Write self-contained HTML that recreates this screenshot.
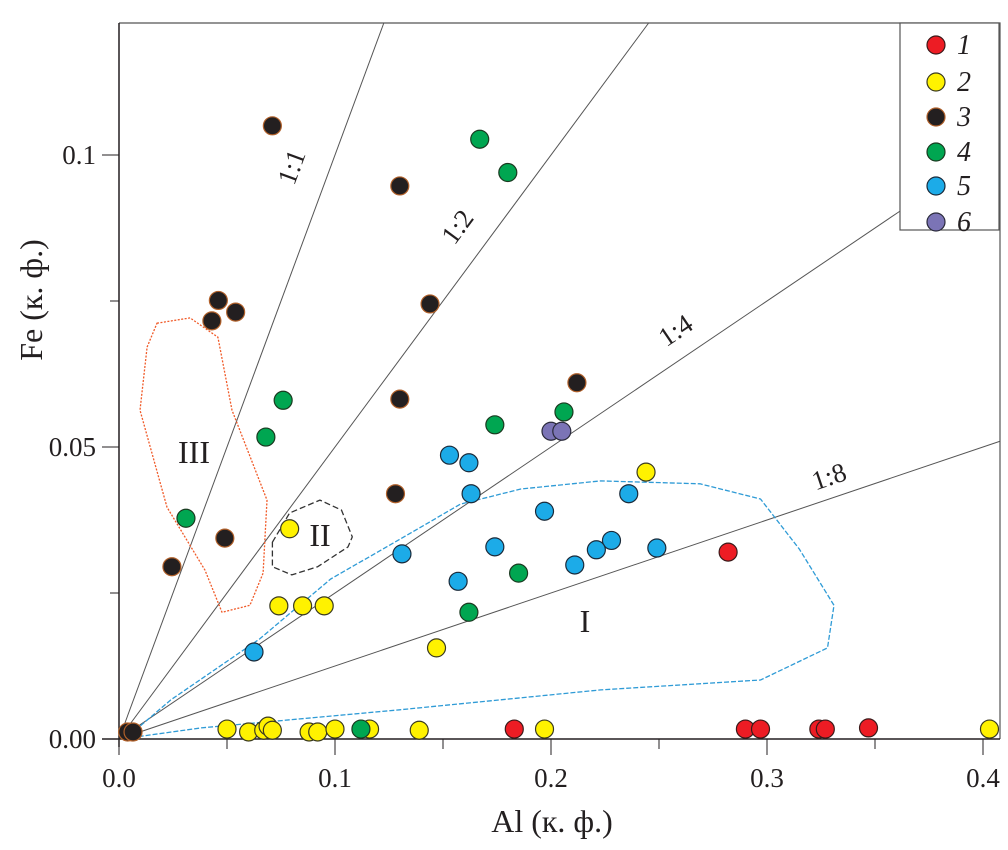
<!DOCTYPE html>
<html><head><meta charset="utf-8"><style>
body{margin:0;background:#fff}
svg{display:block}
text{font-family:"Liberation Serif",serif;fill:#231f20}
</style></head><body>
<svg id="chart" width="1008" height="850">
<g id="lines"></g>
<g id="regions"></g>
<g id="axes"></g>
<g id="points"></g>
<g id="legend"></g>
</svg>
<script>
const xTicks=[0,0.1,0.2,0.3,0.4];
const xTickLabels=["0.0","0.1","0.2","0.3","0.4"];
const yTicks=[0,0.05,0.1];
const yTickLabels=["0.00","0.05","0.1"];
const ratios=[1,0.5,0.25,0.125];
const ratioLabels=["1:1","1:2","1:4","1:8"];
const s1Al=[0.282,0.183,0.290,0.297,0.324,0.327,0.347];
const s1Fe=[0.032,0.0017,0.0017,0.0017,0.0017,0.0017,0.0019];
const s2Al=[0.244,0.079,0.074,0.085,0.095,0.147,0.050,0.060,0.067,0.069,0.071,0.088,0.092,0.100,0.116,0.139,0.197,0.403];
const s2Fe=[0.0457,0.036,0.0228,0.0228,0.0228,0.0156,0.0017,0.0012,0.0015,0.0022,0.0015,0.0012,0.0012,0.0017,0.0017,0.0015,0.0017,0.0017];
const s3Al=[0.071,0.130,0.046,0.043,0.054,0.144,0.130,0.212,0.128,0.049,0.0245,0.004,0.0065];
const s3Fe=[0.105,0.0947,0.0751,0.0716,0.0731,0.0745,0.0582,0.061,0.042,0.0344,0.0295,0.0012,0.0012];
const s4Al=[0.167,0.180,0.076,0.068,0.174,0.206,0.031,0.185,0.162,0.112];
const s4Fe=[0.1027,0.097,0.058,0.0517,0.0538,0.056,0.0378,0.0284,0.0217,0.0017];
const s5Al=[0.153,0.162,0.163,0.236,0.197,0.131,0.174,0.228,0.221,0.249,0.211,0.157,0.0625];
const s5Fe=[0.0486,0.0473,0.042,0.042,0.039,0.0317,0.0329,0.034,0.0324,0.0327,0.0298,0.027,0.0149];
const s6Al=[0.200,0.205];
const s6Fe=[0.0527,0.0527];
const regIAl=[0.005,0.024,0.065,0.098,0.130,0.158,0.186,0.223,0.269,0.297,0.315,0.331,0.328,0.297,0.223,0.130,0.038,0.005];
const regIFe=[0.0007,0.0067,0.0171,0.0274,0.0342,0.0402,0.0428,0.0442,0.0437,0.0411,0.0325,0.0229,0.0156,0.0101,0.0084,0.0050,0.0019,0.0002];
const regIIAl=[0.071,0.079,0.093,0.103,0.108,0.106,0.092,0.080,0.071];
const regIIFe=[0.0337,0.0387,0.0409,0.0392,0.0346,0.0329,0.0295,0.0281,0.0295];
const regIIIAl=[0.0176,0.0329,0.0458,0.0523,0.0685,0.0667,0.0606,0.0477,0.0398,0.0222,0.0097,0.0130];
const regIIIFe=[0.0712,0.0721,0.0688,0.0563,0.0409,0.0284,0.0229,0.0217,0.0289,0.0397,0.0563,0.0671];
const X0=119,XS=2160,Y0=739,YS=5840,TOP=23,RIGHT=1000;
const xs=v=>X0+v*XS, ys=v=>Y0-v*YS;
const NS="http://www.w3.org/2000/svg";
function mk(t,a,p){const e=document.createElementNS(NS,t);for(const k in a)e.setAttribute(k,a[k]);p.appendChild(e);return e;}
const L=document.getElementById('lines'),R=document.getElementById('regions'),A=document.getElementById('axes'),P=document.getElementById('points'),G=document.getElementById('legend');
const lblPos=[[0.0838,0.0974],[0.160,0.0868],[0.260,0.0687],[0.330,0.0435]];
ratios.forEach((r,i)=>{
  let al=(TOP-Y0)/-YS/r; let fe=al*r;
  if(xs(al)>RIGHT){al=(RIGHT-X0)/XS;fe=al*r;}
  if(i==2){al=(900-X0)/XS;fe=al*r;}
  const ln=mk('line',{x1:xs(0),y1:ys(0),x2:xs(al),y2:ys(fe),stroke:'#555',"stroke-width":1},L);
  
  
  const ang=-Math.atan(r*YS/XS)*180/Math.PI;
  const lx=xs(lblPos[i][0]),ly=ys(lblPos[i][1]);
  const t=mk('text',{x:lx,y:ly,"font-size":27,"text-anchor":"middle",transform:`rotate(${ang} ${lx} ${ly})`},L);
  t.textContent=ratioLabels[i];
  
  
});
function region(al,fe,col,dash,name,lab,lx,ly){
  const d=al.map((a,i)=>(i?'L':'M')+xs(a).toFixed(1)+' '+ys(fe[i]).toFixed(1)).join(' ')+'Z';
  const p=mk('path',{d:d,fill:'none',stroke:col,"stroke-width":1.3,"stroke-dasharray":dash,"stroke-linejoin":"round"},R);
  
  
  const t=mk('text',{x:lx,y:ly,"font-size":32,"text-anchor":"middle"},R);t.textContent=lab;
  
  
}
region(regIAl,regIFe,'#2f9bd6','5 2','region-i','I',585,632);
region(regIIAl,regIIFe,'#333','6 3','region-ii','II',320,546);
region(regIIIAl,regIIIFe,'#f05a28','2 1.5','region-iii','III',194,463);
mk('path',{d:`M${X0} ${TOP}H${RIGHT}V${Y0}`,fill:'none',stroke:'#555',"stroke-width":1.2},A);
mk('line',{x1:X0,y1:TOP,x2:X0,y2:Y0+8,stroke:'#231f20',"stroke-width":1.5},A);
mk('line',{x1:102,y1:Y0,x2:RIGHT,y2:Y0,stroke:'#231f20',"stroke-width":1.5},A);
xTicks.forEach((v,i)=>{
  mk('line',{x1:xs(v),y1:Y0,x2:xs(v),y2:Y0+16,stroke:'#231f20'},A);
  if(i<xTicks.length-1)mk('line',{x1:xs(v+0.05),y1:Y0,x2:xs(v+0.05),y2:Y0+10,stroke:'#231f20'},A);
  const t=mk('text',{x:xs(v),y:Y0+48,"font-size":27,"text-anchor":"middle"},A);t.textContent=xTickLabels[i];
  
  
});
yTicks.forEach((v,i)=>{
  mk('line',{x1:102,y1:ys(v),x2:X0,y2:ys(v),stroke:'#231f20'},A);
  if(ys(v+0.025)>TOP)mk('line',{x1:110,y1:ys(v+0.025),x2:X0,y2:ys(v+0.025),stroke:'#231f20'},A);
  const t=mk('text',{x:96,y:ys(v)+9,"font-size":27,"text-anchor":"end"},A);t.textContent=yTickLabels[i];
  
  
});
const xt=mk('text',{x:552,y:832,"font-size":32,"text-anchor":"middle"},A);xt.textContent='Al (к. ф.)';


const yt=mk('text',{x:42,y:300,"font-size":32,"text-anchor":"middle",transform:'rotate(-90 42 300)'},A);yt.textContent='Fe (к. ф.)';


const series=[[s1Al,s1Fe,'#ed1c24','#3a1a1a'],[s2Al,s2Fe,'#fff200','#3a3a20'],[s3Al,s3Fe,'#231f20','#b0602a'],[s4Al,s4Fe,'#00a651','#1a3a20'],[s5Al,s5Fe,'#1cabe8','#1a2a3a'],[s6Al,s6Fe,'#7b74b6','#2a2a3a']];
series.forEach((s,si)=>{
  s[0].forEach((a,i)=>{
    const c=mk('circle',{cx:xs(a),cy:ys(s[1][i]),r:9,fill:s[2],stroke:s[3],"stroke-width":1.2},P);
    
    
  });
});
mk('rect',{x:900,y:23,width:99,height:207,fill:'#fff',stroke:'#555',"stroke-width":1.2},G);
const legY=[45,82,117,152,186,222];
series.forEach((s,si)=>{
  const c=mk('circle',{cx:936,cy:legY[si],r:9,fill:s[2],stroke:s[3],"stroke-width":1.2},G);
  
  
  const t=mk('text',{x:957,y:legY[si]+9,"font-size":28,"font-style":"italic"},G);t.textContent=String(si+1);
  
  
});
</script>
</body></html>
